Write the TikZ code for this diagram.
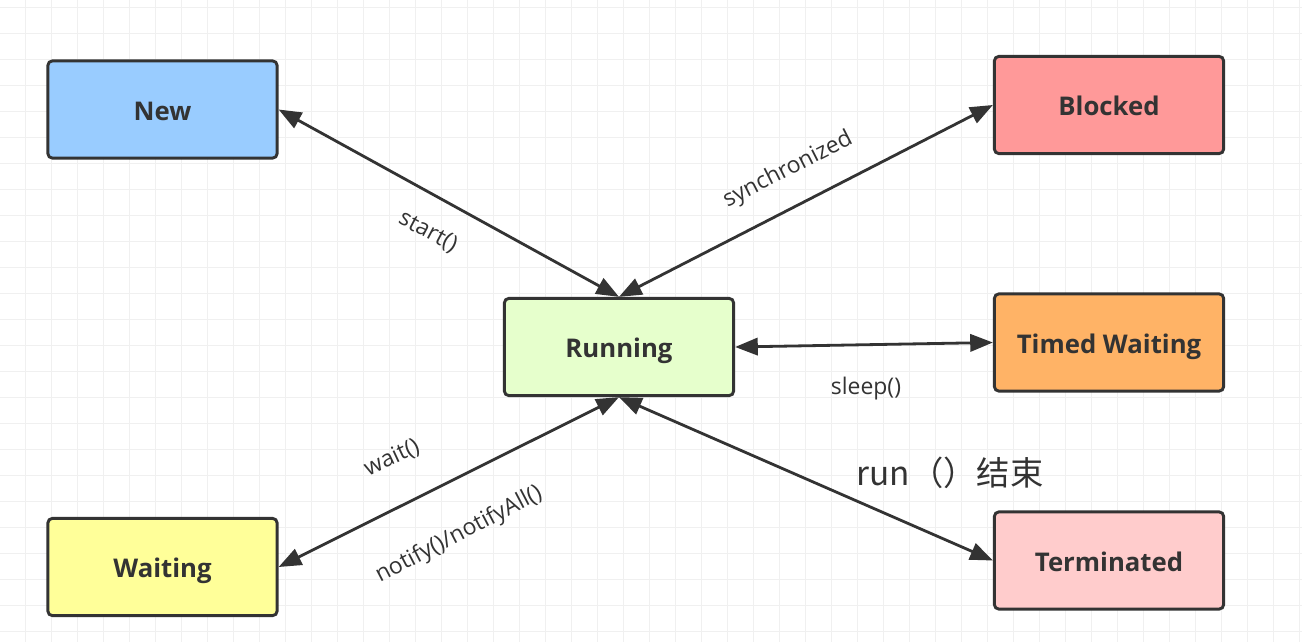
\documentclass[tikz,border=0pt]{standalone}
\usepackage{fontspec}
\setmainfont{Open Sans}
\newfontfamily\cjkfont{Noto Sans CJK SC}
\usetikzlibrary{arrows.meta}
\definecolor{gridc}{HTML}{F0F0F0}
\definecolor{edgec}{HTML}{333333}
\definecolor{txtc}{HTML}{333333}
\definecolor{cnew}{HTML}{99CCFF}
\definecolor{cblocked}{HTML}{FF9999}
\definecolor{crunning}{HTML}{E6FFCC}
\definecolor{ctimed}{HTML}{FFB366}
\definecolor{cwaiting}{HTML}{FFFF99}
\definecolor{cterm}{HTML}{FFCCCC}
\tikzset{
  statebox/.style={draw=edgec, line width=2.2pt, rounded corners=3.5pt,
    minimum width=172pt, minimum height=73pt, text=txtc,
    text height=16pt, text depth=0pt,
    font=\fontsize{19.3}{23}\selectfont\bfseries, inner sep=0pt},
  conn/.style={draw=edgec, line width=2.1pt,
    {Triangle[length=17pt,width=13pt]}-{Triangle[length=17pt,width=13pt]}},
  lbl/.style={text=txtc, font=\fontsize{17.2}{20}\selectfont, inner sep=0pt},
}
\begin{document}
\begin{tikzpicture}[x=0.75pt,y=-0.75pt]
\useasboundingbox (0,0) rectangle (1302,642);
\fill[white] (0,0) rectangle (1302,642);
% grid
\foreach \gx in {-1,25,...,1302} \draw[gridc, line width=0.7pt] (\gx,0) -- (\gx,642);
\foreach \gy in {7,33,...,642} \draw[gridc, line width=0.7pt] (0,\gy) -- (1302,\gy);
% nodes
\node[statebox, fill=cnew] (new) at (162.5,109.5) {New};
\node[statebox, fill=cblocked] (blocked) at (1109,105) {Blocked};
\node[statebox, fill=crunning] (running) at (619,347) {Running};
\node[statebox, fill=ctimed] (timed) at (1109,342.5) {Timed Waiting};
\node[statebox, fill=cwaiting] (waiting) at (162.5,567) {Waiting};
\node[statebox, fill=cterm] (term) at (1109,560.5) {Terminated};
% connectors
\draw[conn] (new.east) -- (running.north);
\draw[conn] (blocked.west) -- (running.north);
\draw[conn] (running.east) -- (timed.west);
\draw[conn] (running.south) -- (waiting.east);
\draw[conn] (running.south) -- (term.west);
% labels
\node[lbl, rotate=-28] (lstart) at (428,232) {start()};
\node[lbl, rotate=27] (lsync) at (788,170) {synchronized};
\node[lbl] (lsleep) at (866,389) {sleep()};
\node[lbl, rotate=25] (lwait) at (392,458) {wait()};
\node[lbl, rotate=27.5] (lnotify) at (459,535) {notify()/notifyAll()};
\node[text=txtc, font=\cjkfont\fontsize{25}{29}\selectfont, inner sep=0pt] (lrun) at (950,473) {run（）结束};
\end{tikzpicture}
\end{document}
